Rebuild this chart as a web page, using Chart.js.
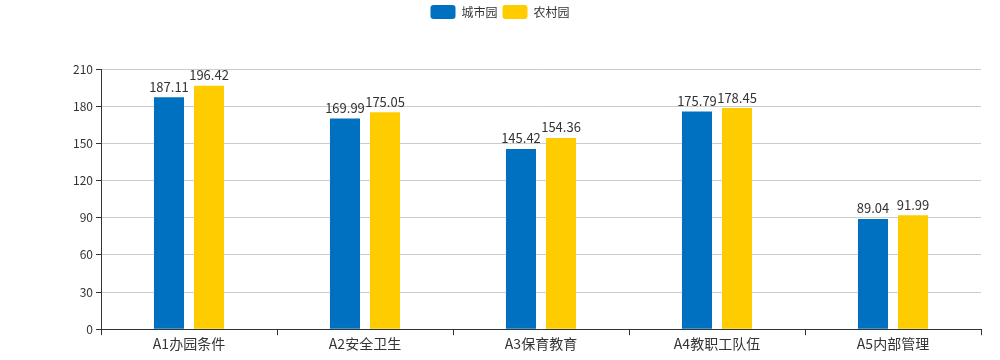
<!DOCTYPE html>
<html>
<head>
<meta charset="utf-8">
<script src="https://cdn.jsdelivr.net/npm/chart.js@4.4.0/dist/chart.umd.min.js"></script>
<style>
  html, body { margin: 0; padding: 0; background: #fff; }
  #wrap { width: 1000px; height: 360px; }
</style>
</head>
<body>
<div id="wrap"><canvas id="chart"></canvas></div>
<script>
var categories = ["A1办园条件", "A2安全卫生", "A3保育教育", "A4教职工队伍", "A5内部管理"];
var cityValues = [187.11, 169.99, 145.42, 175.79, 89.04];
var ruralValues = [196.42, 175.05, 154.36, 178.45, 91.99];
var seriesNames = ["城市园", "农村园"];
var yTicks = [0, 30, 60, 90, 120, 150, 180, 210];

var FONT = "'Noto Sans CJK SC', 'Microsoft YaHei', sans-serif";

// labels above each bar
var barLabels = {
	id: "barLabels",
	afterDatasetsDraw: function(chart){
		var ctx = chart.ctx;
		ctx.save();
		ctx.font = "13px " + FONT;
		ctx.fillStyle = "#333";
		ctx.textAlign = "center";
		ctx.textBaseline = "bottom";
		chart.data.datasets.forEach(function(ds, i){
			chart.getDatasetMeta(i).data.forEach(function(bar, j){
				ctx.fillText(ds.data[j].toFixed(2), bar.x, bar.y - 4);
			});
		});
		ctx.restore();
	}
};

// push the plot down below the legend
var legendGap = {
	id: "legendGap",
	beforeInit: function(chart){
		var fit = chart.legend.fit;
		chart.legend.fit = function(){
			fit.bind(chart.legend)();
			this.height += 40;
		};
	}
};

new Chart("chart", {
	type: "bar",
	data: {
		labels: categories,
		datasets: [{
			label: seriesNames[0],
			data: cityValues,
			backgroundColor: "#0070c0"
		}, {
			label: seriesNames[1],
			data: ruralValues,
			backgroundColor: "#ffcc00"
		}]
	},
	plugins: [barLabels, legendGap],
	options: {
		responsive: true,
		maintainAspectRatio: false,
		animation: false,
		layout: { padding: { left: 19, right: 19, top: 0, bottom: 8 } },
		datasets: { bar: { categoryPercentage: 0.455, barPercentage: 0.75 } },
		plugins: {
			legend: {
				position: "top",
				labels: {
					boxWidth: 25,
					boxHeight: 14,
					useBorderRadius: true,
					borderRadius: 3,
					color: "#333",
					padding: 5,
					font: { size: 12, family: FONT }
				}
			},
			tooltip: { enabled: false }
		},
		scales: {
			x: {
				offset: true,
				grid: { offset: true, drawOnChartArea: false, tickLength: 6, color: "#333" },
				border: { color: "#333" },
				ticks: { color: "#333", font: { size: 14, family: FONT }, padding: 0 }
			},
			y: {
				min: 0,
				max: 210,
				afterBuildTicks: function(axis){
					axis.ticks = yTicks.map(function(v){ return { value: v }; });
				},
				afterFit: function(axis){ axis.width = 82; },
				grid: { color: "#ccc", tickColor: "#333", tickLength: 5 },
				border: { color: "#333" },
				ticks: { color: "#333", font: { size: 12, family: FONT }, padding: 3 }
			}
		}
	}
});
</script>
</body>
</html>
